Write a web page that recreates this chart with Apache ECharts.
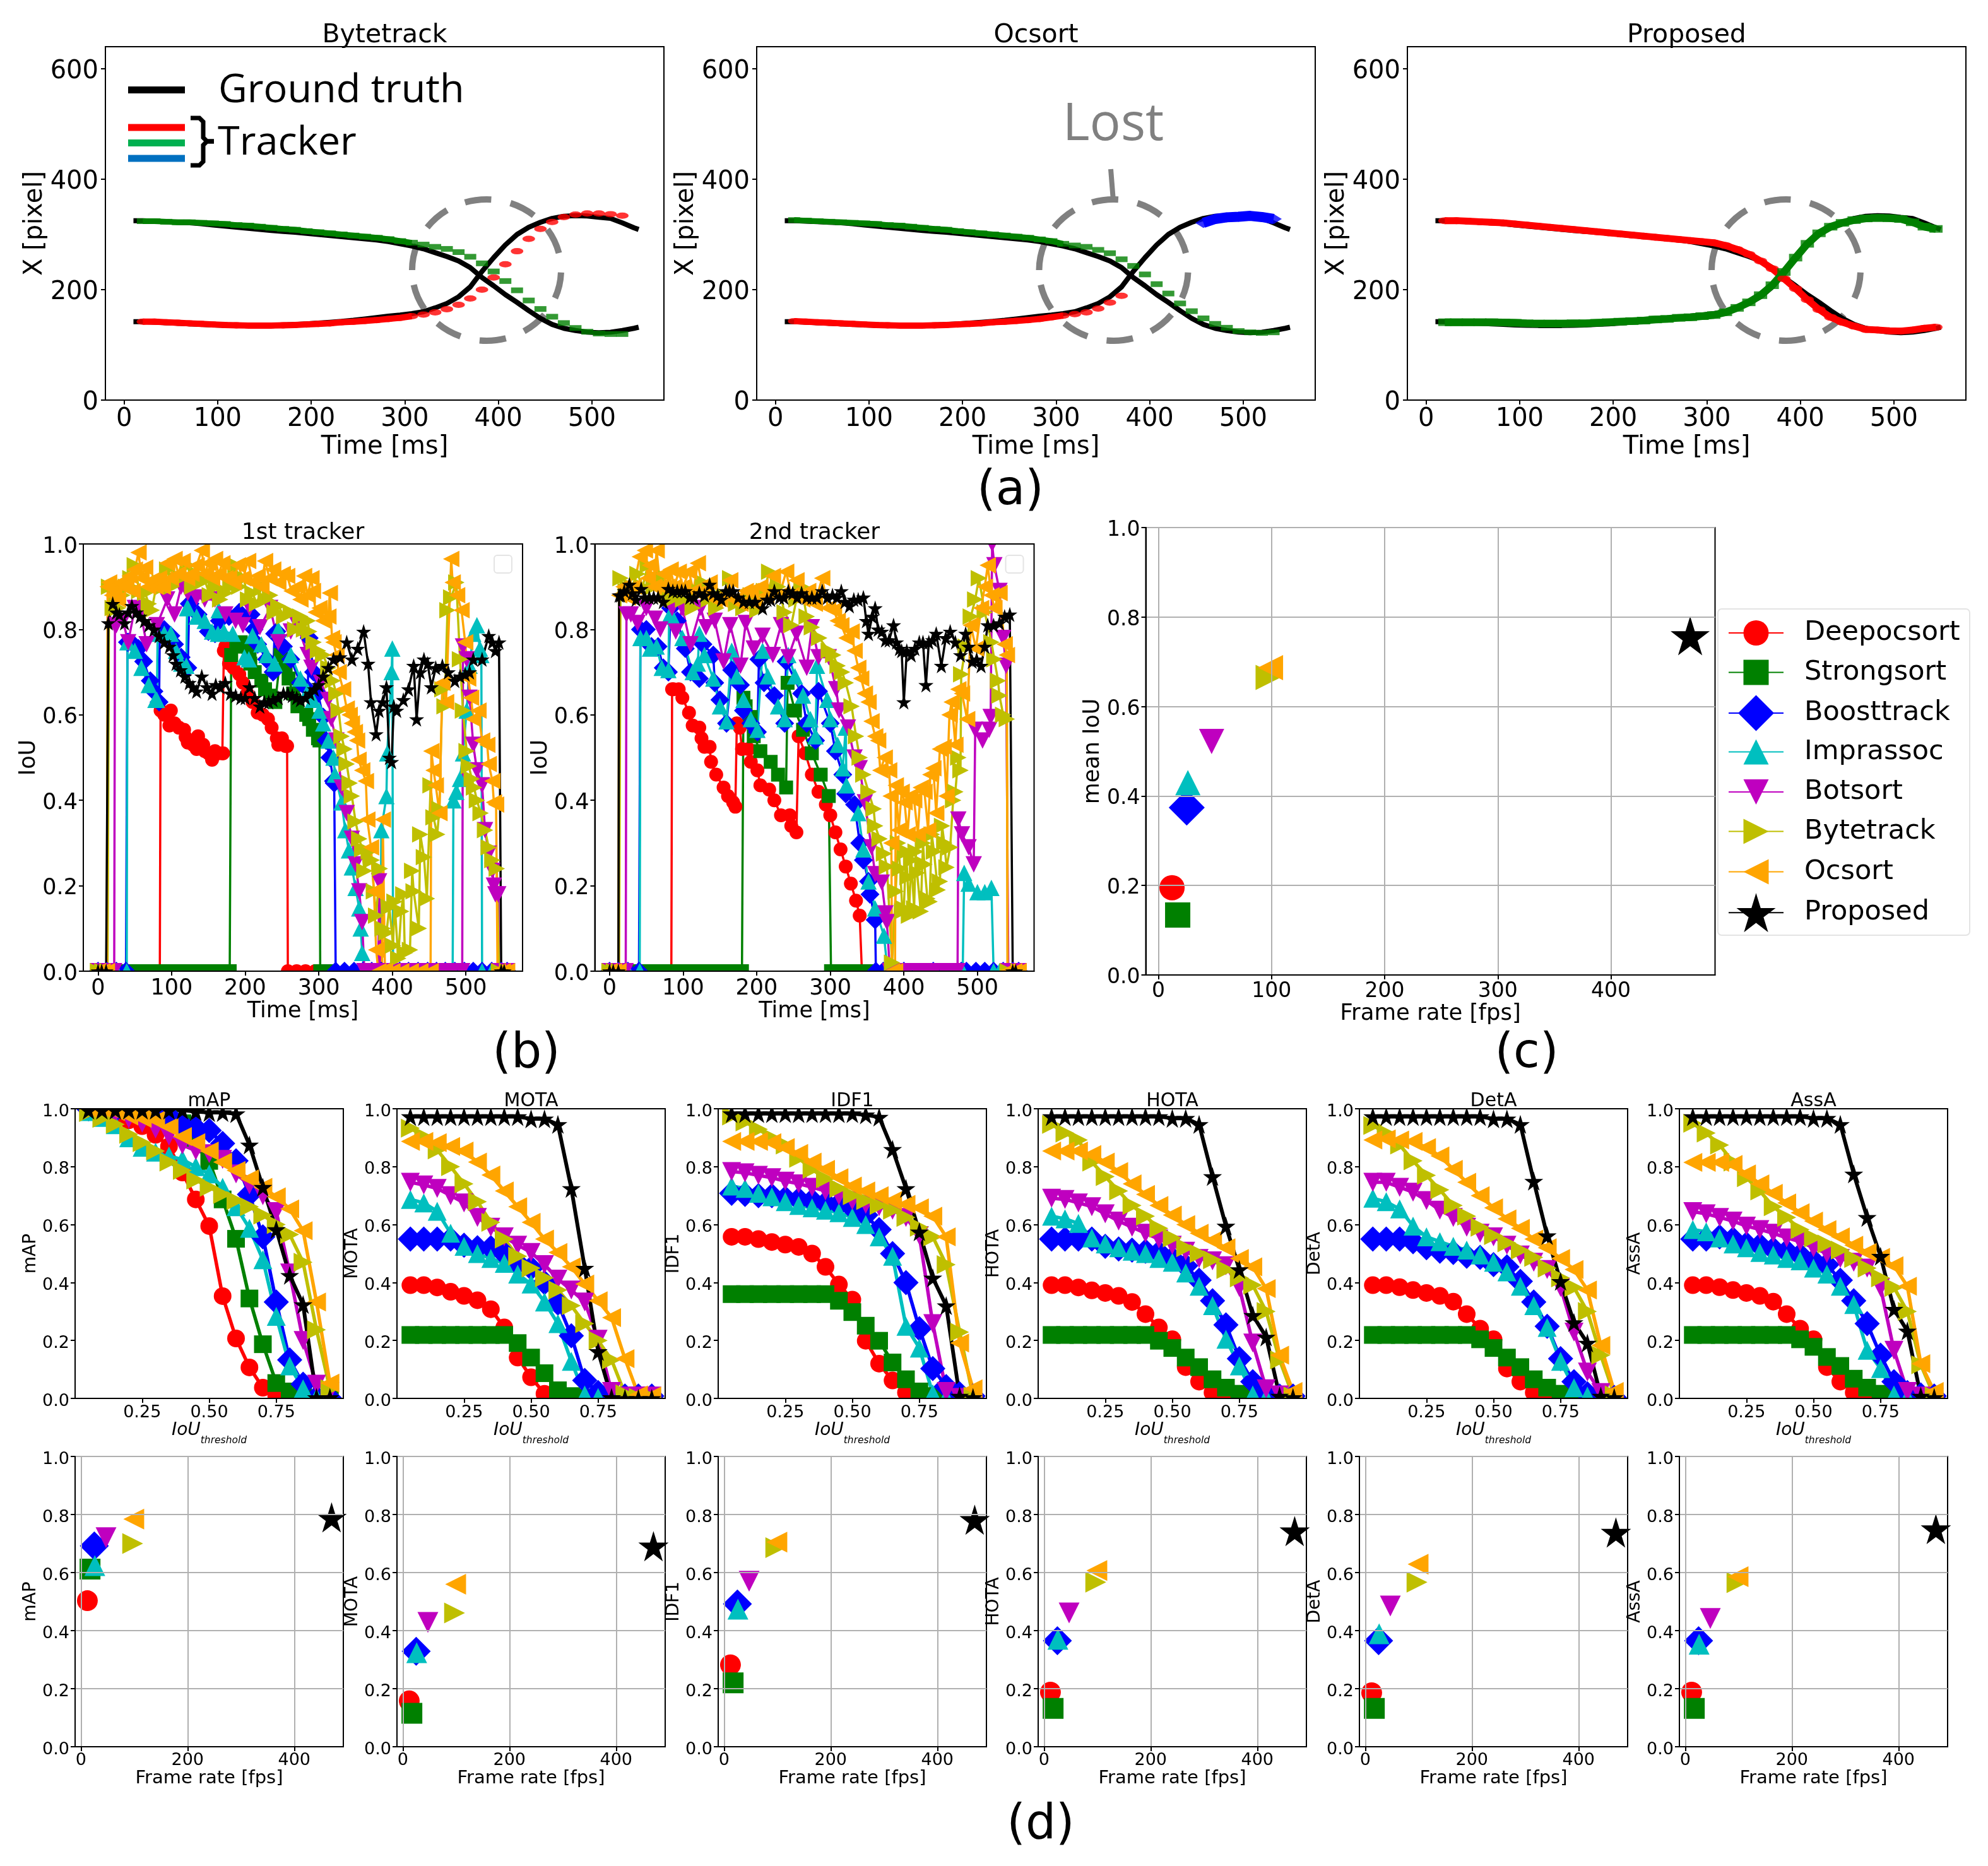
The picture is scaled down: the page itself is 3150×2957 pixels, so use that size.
<!DOCTYPE html>
<html><head><meta charset="utf-8">
<style>html,body{margin:0;padding:0;background:#fff}#c{width:3150px;height:2957px}</style>
<script src="https://cdn.jsdelivr.net/npm/echarts@6/dist/echarts.min.js"></script>
</head><body><div id="c"></div>
<script>
// ---------- (a) X position over time ----------
const aGtX=[10,20,32.5,45,57.5,70,82.5,95,107.5,120,132.5,145,157.5,170,182.5,195,207.5,220,232.5,245,257.5,270,282.5,295,307.5,320,332.5,345,357.5,370,382.5,395,407.5,420,432.5,445,457.5,470,482.5,495,507.5,520,532.5,545,550];
const aGtFalling=[325,325,324,323,322,321,319.5,317,315,313,311,309,307,305.5,304,302,300,298,296,294,292,290,287,283,279,274,267,260,252,240,222,207,191,177,162,148,137,130,126,123,122,123,126,130,132];
const aGtRising=[142,142,141,140,139,138,137,136,135.5,135,135,135,135.5,136,137,138,139.5,141,142.5,144.5,147,149.5,152,154,156.5,160,167,175,187,205,233,258,281,300,313,322,329,333,334,333.5,331,329,321,312,309];
const aFrames=[20,32.5,45,57.5,70,82.5,95,107.5,120,132.5,145,157.5,170,182.5,195,207.5,220,232.5,245,257.5,270,282.5,295,307.5,320,332.5,345,357.5,370,382.5,395,407.5,420,432.5,445,457.5,470,482.5,495,507.5,520,532.5,545];
const aByteGreen=[324,324,323,322,322,321,320,319,317,316,314,312,310,308.5,306,304,302,300,298,296,294,291.5,288,285,281.6,277.5,273.8,268,259.6,247.6,233,215.6,198.8,180.4,165,151,139.5,130.6,123.8,120.6,119.6,119.6];
const aByteRed=[142,142,141,140,139,138,137,136,135.5,135,135,135,135.5,136,137,138,139,141,142,143.5,145,147,149,152,155,159,164.7,172.6,184,200,222,246,269.6,292,310,322.6,331.5,336,338,338,336.7,334];
const aOcGreen=[326,325,324,323,322,321,320,319,317,316,314,312,310,308.5,306,304,302,300,298,296,294,291,288,283,280,277.5,272,266,255,243,227.6,210,193,175,161,148,138,131,125,122.7,121.7,122.7];
const aOcRed=[143,142,141,140,139,138,137,136,135.5,135,135,135,135.5,136,137,138,139,141,142,143.5,145,147,150,153,155.8,159,165.7,176.7,188.8];
const aOcBlueX=[457.5,470,482.5,495,507.5,520,532.5];
const aOcBlue=[321,328,331,332,333.6,331.5,328];
const aPropRed=[325,325,324,323,322,321,319,317,315,313,311,309,307,305,303,301,299,297,295,293,291,289,287,285,280,273,264,252,238,220,202,182,164,150,141,134,128,127,125.5,125,127,130,132];
const aPropGreen=[141,141,141,141,141,140.5,140,139,138.5,138.5,138.5,139,139,140,141,142,143,144,146,147,149,150,152,154,159,167,177,190,208,232,258,283,302,314,321,326,329,330,329.5,328,322,314,310];

// ---------- (b) IoU over time: [time, IoU] ----------
const b1Deep=[[0,0],[25,0],[50,0],[84,0],[85,.61],[90,.60],[97,.575],[99,.61],[104,.58],[110,.57],[117,.565],[119,.548],[122,.535],[129,.53],[134,.52],[136,.55],[143,.53],[145,.515],[150,.51],[155,.495],[159,.515],[164,.51],[169,.51],[170,.51],[171,.75],[173,.76],[178,.72],[184,.71],[192,.695],[197,.675],[203,.65],[210,.63],[217,.605],[224,.60],[231,.59],[236,.57],[243,.545],[245,.53],[250,.545],[255,.527],[257,.527],[258,0],[270,0],[282,0],[295,0],[320,0],[400,0],[555,0]];
const b1Strong=[[0,0],[12,0],[25,0],[38,0],[50,0],[62,0],[75,0],[88,0],[100,0],[112,0],[125,0],[138,0],[150,0],[162,0],[175,0],[179,0],[181,.74],[188,.76],[194,.77],[200,.76],[206,.75],[207,.72],[213,.70],[222,.68],[227,.66],[234,.645],[241,.63],[248,.74],[255,.715],[259,.685],[265,.65],[271,.62],[283,.60],[287,.59],[292,.565],[299,.545],[301,.54],[302,0],[312,0],[400,0],[555,0]];
const b1Boost=[[0,0],[12,0],[25,0],[38,0],[40,.77],[41,.77],[48,.765],[55,.755],[62,.725],[71,.68],[76,.655],[83,.63],[84,.80],[90,.80],[99,.785],[104,.765],[113,.735],[122,.71],[124,.86],[125,.86],[136,.835],[150,.795],[159,.79],[165,.82],[178,.83],[192,.84],[208,.835],[212,.80],[217,.765],[229,.73],[238,.70],[240,.79],[243,.795],[252,.76],[262,.73],[275,.675],[285,.66],[287,.78],[293,.70],[299,.65],[306,.595],[310,.54],[315,.50],[320,.445],[321,.44],[323,0],[335,0],[348,0],[360,0],[372,0],[385,0],[398,0],[410,0],[422,0],[435,0],[448,0],[460,0],[472,0],[485,0],[498,0],[510,0],[522,0],[535,0],[548,0],[556,0]];
const b1Impr=[[0,0],[12,0],[25,0],[39,0],[40,.77],[50,.75],[59,.71],[69,.67],[78,.635],[80,.635],[81,.79],[90,.79],[99,.79],[106,.75],[113,.72],[120,.715],[121,.85],[122,.85],[134,.83],[145,.82],[155,.795],[163,.79],[164,.845],[171,.795],[183,.79],[199,.735],[205,.73],[210,.785],[222,.765],[229,.74],[240,.72],[245,.80],[262,.74],[275,.685],[285,.655],[292,.635],[301,.61],[306,.58],[313,.54],[320,.50],[322,.46],[331,.395],[336,.33],[341,.283],[345,.243],[350,.195],[355,.147],[357,.10],[359,.043],[362,0],[375,0],[384,0],[385,.33],[392,.41],[393,.51],[399,.70],[400,.755],[401,0],[440,0],[480,0],[482,0],[483,.40],[487,.42],[492,.45],[496,.51],[501,.61],[505,.715],[510,.79],[515,.81],[519,.755],[521,.74],[522,0],[535,0],[556,0]];
const b1Bot=[[0,0],[12,0],[22,0],[23,.81],[25,.81],[34,.82],[41,.77],[50,.85],[58,.84],[66,.765],[80,.81],[94,.87],[104,.835],[113,.90],[122,.885],[134,.875],[145,.87],[159,.87],[173,.835],[187,.82],[197,.81],[206,.85],[220,.805],[234,.85],[245,.77],[262,.795],[271,.81],[285,.74],[290,.71],[303,.675],[313,.635],[317,.59],[324,.54],[331,.43],[338,.37],[345,.31],[350,.25],[355,.187],[359,.115],[362,0],[372,0],[381,0],[382,.21],[384,0],[395,0],[408,0],[420,0],[432,0],[445,0],[458,0],[470,0],[482,0],[495,0],[496,.76],[501,.73],[505,.64],[510,.53],[515,.47],[522,.435],[526,.33],[531,.275],[536,.235],[538,.20],[540,.18],[544,.18],[545,0],[556,0]];
const b1Byte=[[0,0],[6,0],[13,0],[15,.90],[20,.85],[27,.85],[33,.88],[38,.90],[44,.92],[50,.95],[56,.89],[64,.885],[69,.86],[73,.845],[79,.90],[84,.91],[89,.90],[94,.94],[100,.90],[106,.915],[113,.92],[122,.95],[128,.90],[134,.93],[140,.91],[145,.915],[152,.88],[160,.90],[166,.87],[173,.885],[180,.90],[187,.95],[192,.90],[198,.92],[204,.87],[210,.885],[216,.86],[222,.90],[228,.87],[234,.88],[240,.84],[245,.855],[253,.83],[262,.84],[268,.80],[275,.83],[280,.80],[285,.82],[287,.795],[293,.77],[299,.75],[306,.74],[313,.71],[319,.68],[324,.65],[327,.61],[331,.55],[335,.52],[338,.485],[342,.44],[345,.41],[350,.35],[355,.31],[359,.285],[362,.235],[368,.28],[372,.26],[375,.187],[378,.13],[383,.24],[387,.10],[392,.09],[396,.15],[401,.06],[403,.163],[408,.03],[412,.14],[415,.18],[417,.043],[424,.05],[427,.235],[429,.187],[436,.10],[438,.32],[443,.267],[447,.17],[452,.435],[456,.36],[461,.32],[464,.38],[468,.66],[471,.62],[475,.845],[480,.875],[487,.91],[492,.73],[496,.61],[501,.515],[504,.48],[508,.45],[511,.43],[515,.40],[520,.37],[526,.33],[531,.29],[536,.26],[542,.24],[545,0],[556,0]];
const b1Oc=[[0,0],[6,0],[12,0],[13,.90],[15,.91],[19,.88],[22,.90],[27,.87],[31,.91],[34,.90],[38,.90],[43,.925],[47,.89],[50,.94],[55,.98],[59,.92],[64,.945],[68,.90],[73,.915],[78,.90],[83,.92],[88,.90],[94,.955],[99,.92],[104,.965],[109,.93],[115,.96],[121,.92],[127,.93],[134,.95],[141,.985],[145,.93],[150,.955],[155,.92],[159,.965],[164,.93],[169,.955],[173,.92],[178,.92],[184,.91],[190,.95],[197,.92],[204,.96],[210,.91],[217,.925],[222,.90],[227,.96],[233,.92],[238,.94],[245,.91],[251,.93],[257,.925],[263,.89],[271,.90],[275,.87],[280,.925],[285,.88],[290,.92],[292,.89],[296,.84],[301,.85],[306,.82],[313,.83],[315,.885],[318,.78],[320,.77],[324,.74],[327,.70],[333,.66],[338,.615],[342,.60],[345,.58],[349,.56],[352,.54],[354,.495],[359,.47],[364,.445],[366,.355],[371,.29],[375,.187],[378,.05],[381,0],[386,0],[387,.355],[390,0],[400,0],[412,0],[425,0],[438,0],[452,0],[453,.515],[456,.47],[459,.435],[464,.37],[468,.675],[473,.63],[480,.965],[482,.91],[488,.88],[494,.845],[499,.77],[503,.685],[507,.64],[510,.59],[517,.61],[522,.54],[529,.53],[531,.485],[536,.445],[538,.395],[541,.39],[543,0],[550,0],[556,0]];
const b1Prop=[[0,0],[5,0],[11,0],[14,.815],[20,.86],[25,.84],[29,.835],[36,.815],[41,.84],[46,.855],[52,.84],[57,.83],[63,.82],[69,.81],[76,.80],[83,.785],[90,.77],[97,.76],[102,.74],[106,.72],[112,.705],[118,.69],[124,.675],[129,.665],[134,.655],[141,.69],[148,.665],[155,.65],[160,.67],[166,.665],[173,.675],[180,.65],[187,.645],[194,.64],[200,.64],[206,.665],[213,.64],[220,.62],[226,.63],[232,.63],[238,.635],[245,.64],[252,.65],[258,.65],[264,.645],[270,.64],[275,.635],[282,.64],[288,.65],[294,.66],[300,.67],[306,.69],[313,.71],[320,.73],[329,.735],[338,.77],[345,.73],[353,.755],[361,.795],[367,.72],[371,.63],[378,.555],[382,.61],[387,.63],[392,.665],[396,.50],[399,.49],[402,.62],[406,.61],[415,.635],[422,.66],[429,.715],[433,.59],[438,.70],[443,.73],[448,.72],[453,.665],[459,.71],[468,.715],[476,.70],[485,.68],[492,.69],[499,.695],[505,.70],[510,.73],[522,.73],[531,.785],[536,.77],[540,.75],[545,.77],[548,0],[552,0]];

const b2Deep=[[0,0],[25,0],[50,0],[84,0],[85,.66],[87,.66],[94,.66],[99,.64],[108,.605],[113,.575],[122,.57],[125,.545],[129,.525],[136,.525],[138,.49],[145,.46],[155,.43],[161,.41],[168,.395],[171,.385],[173,.58],[177,.57],[180,.52],[189,.52],[192,.49],[201,.47],[205,.435],[217,.425],[224,.40],[233,.365],[245,.365],[247,.34],[254,.325],[257,.55],[266,.51],[275,.46],[284,.42],[294,.39],[300,.365],[307,.325],[314,.285],[321,.245],[328,.205],[335,.165],[340,.13],[343,0],[400,0],[555,0]];
const b2Strong=[[0,0],[12,0],[25,0],[38,0],[50,0],[62,0],[75,0],[88,0],[100,0],[112,0],[125,0],[138,0],[150,0],[162,0],[175,0],[180,0],[182,.64],[185,.62],[192,.595],[196,.55],[205,.515],[219,.49],[229,.46],[240,.43],[242,.675],[252,.61],[263,.565],[275,.51],[287,.46],[298,.41],[301,0],[312,0],[325,0],[338,0],[350,0],[400,0],[555,0]];
const b2Boost=[[0,0],[12,0],[25,0],[40,0],[42,.80],[50,.80],[57,.76],[66,.76],[73,.71],[80,.70],[83,.85],[92,.82],[103,.755],[110,.70],[122,.685],[127,.765],[141,.74],[143,.675],[150,.635],[159,.58],[166,.705],[178,.67],[182,.61],[192,.58],[201,.56],[203,.73],[210,.675],[224,.645],[238,.58],[240,.725],[261,.65],[268,.58],[280,.54],[284,.655],[300,.58],[307,.515],[317,.46],[321,.415],[333,.39],[340,.30],[345,.26],[352,.21],[354,.18],[361,.12],[362,0],[372,0],[385,0],[400,0],[440,0],[478,0],[485,0],[498,0],[510,0],[522,0],[535,0],[548,0],[556,0]];
const b2Impr=[[0,0],[12,0],[25,0],[41,0],[42,.78],[50,.78],[55,.755],[64,.76],[71,.71],[80,.705],[81,.83],[85,.83],[99,.78],[113,.70],[120,.72],[122,.79],[129,.74],[141,.685],[150,.62],[159,.585],[166,.75],[173,.69],[182,.635],[192,.59],[201,.565],[208,.75],[215,.69],[229,.62],[238,.59],[243,.74],[252,.69],[263,.645],[273,.59],[280,.55],[282,.715],[296,.635],[300,.59],[310,.53],[317,.475],[321,.57],[322,.435],[338,.37],[345,.285],[352,.21],[361,.147],[373,.083],[378,0],[390,0],[440,0],[480,0],[482,.23],[488,.205],[500,.185],[510,.185],[519,.195],[522,0],[530,0],[556,0]];
const b2Bot=[[0,0],[12,0],[22,0],[23,.835],[29,.835],[38,.815],[50,.85],[62,.825],[69,.80],[85,.85],[90,.795],[99,.85],[110,.765],[124,.85],[131,.805],[143,.82],[155,.725],[164,.81],[178,.715],[185,.815],[196,.755],[208,.785],[222,.74],[233,.81],[243,.735],[254,.79],[268,.71],[275,.805],[284,.735],[298,.735],[308,.66],[312,.61],[324,.57],[333,.50],[340,.475],[347,.395],[356,.29],[361,.227],[370,.207],[375,.135],[377,.115],[381,0],[393,0],[405,0],[418,0],[430,0],[442,0],[455,0],[468,0],[473,0],[474,.355],[479,.32],[488,.29],[495,.25],[497,.565],[507,.54],[516,.565],[518,.595],[520,1.0],[523,.95],[530,.89],[535,.78],[539,.715],[542,0],[556,0]];
const b2Byte=[[0,0],[6,0],[13,0],[15,.92],[22,.89],[30,.90],[38,.93],[45,.90],[52,.95],[60,.90],[71,.925],[78,.88],[85,.87],[92,.89],[100,.87],[113,.85],[120,.89],[127,.91],[135,.87],[145,.85],[155,.88],[164,.92],[172,.86],[182,.85],[192,.88],[201,.845],[210,.89],[217,.935],[223,.89],[229,.90],[238,.84],[247,.81],[254,.87],[261,.90],[268,.83],[275,.805],[285,.78],[298,.75],[304,.74],[310,.715],[316,.70],[321,.675],[329,.62],[335,.55],[340,.50],[345,.46],[352,.42],[359,.38],[361,.34],[367,.31],[373,.275],[377,.245],[384,.02],[389,.187],[392,.30],[395,.24],[398,.14],[400,.147],[403,.28],[405,.22],[407,.13],[410,.26],[414,.147],[416,.28],[418,.23],[423,.14],[426,.30],[428,.25],[432,.17],[435,.163],[438,.32],[441,.28],[446,.19],[449,.21],[452,.34],[455,.30],[458,.243],[463,.29],[467,.40],[470,.42],[474,.50],[477,.47],[478,.695],[484,.76],[491,.83],[497,.87],[502,.92],[510,.84],[519,.77],[523,.73],[528,.68],[530,.645],[535,.60],[540,.59],[541,0],[556,0]];
const b2Oc=[[0,0],[6,0],[12,0],[13,.88],[19,.90],[25,.875],[33,.90],[41,.97],[48,.985],[52,.92],[55,.95],[60,.90],[64,.985],[69,.90],[73,.93],[78,.90],[83,.94],[88,.90],[94,.935],[100,.90],[108,.935],[114,.89],[120,.955],[127,.89],[136,.91],[143,.87],[150,.87],[157,.88],[164,.915],[171,.87],[178,.86],[185,.89],[192,.89],[198,.86],[205,.90],[213,.88],[222,.925],[231,.88],[240,.935],[247,.88],[254,.915],[262,.87],[270,.89],[279,.86],[289,.92],[297,.85],[305,.845],[310,.82],[315,.81],[322,.78],[329,.795],[333,.75],[338,.71],[342,.685],[347,.65],[352,.63],[356,.585],[361,.55],[365,.54],[368,.47],[374,.50],[380,.47],[382,.41],[383,.30],[384,0],[388,0],[389,.435],[393,.33],[397,.42],[401,.395],[405,.32],[409,.41],[414,.40],[419,.32],[423,.43],[428,.42],[433,.33],[436,.46],[440,.475],[444,.37],[449,.52],[454,.525],[458,.41],[462,.60],[465,.63],[470,.53],[474,.66],[479,.65],[486,.59],[491,.81],[498,.755],[505,.85],[510,.90],[514,.95],[519,.88],[523,.85],[530,.885],[537,.765],[540,.74],[541,0],[550,0],[556,0]];
const b2Prop=[[0,0],[5,0],[12,0],[13,.88],[15,.88],[20,.89],[27,.905],[31,.885],[36,.87],[43,.895],[48,.875],[54,.875],[60,.875],[66,.875],[73,.865],[80,.895],[86,.89],[92,.89],[98,.89],[103,.89],[109,.875],[115,.875],[122,.885],[129,.88],[136,.905],[141,.885],[147,.88],[152,.87],[158,.89],[163,.89],[168,.89],[175,.875],[182,.865],[190,.865],[198,.865],[208,.85],[214,.87],[219,.87],[224,.89],[231,.875],[237,.875],[243,.89],[249,.885],[255,.875],[261,.885],[268,.875],[275,.875],[282,.875],[289,.89],[296,.875],[303,.88],[309,.875],[315,.89],[320,.865],[326,.855],[332,.87],[338,.87],[345,.875],[349,.82],[352,.79],[357,.83],[361,.85],[365,.80],[370,.795],[375,.775],[380,.775],[386,.81],[390,.77],[394,.755],[397,.75],[400,.63],[404,.75],[410,.74],[415,.755],[421,.77],[426,.77],[430,.67],[434,.77],[439,.775],[444,.79],[451,.715],[457,.78],[463,.795],[470,.77],[477,.74],[484,.79],[488,.76],[493,.725],[499,.73],[505,.715],[510,.76],[514,.81],[522,.81],[530,.815],[537,.83],[544,.835],[548,0],[552,0]];

// ---------- (c) / (d bottom) frame rate and mean scores, tracker order ----------
const trackerNames=['Deepocsort','Strongsort','Boosttrack','Imprassoc','Botsort','Bytetrack','Ocsort','Proposed'];
const frameRates=[12,17,25,26,47,97,99,470];
const meanIoU=[.195,.134,.374,.43,.522,.665,.687,.758];
const meanMap=[.503,.612,.692,.624,.72,.70,.784,.79];
const meanMota=[.158,.115,.329,.324,.428,.461,.56,.691];
const meanIdf1=[.282,.22,.492,.474,.57,.686,.705,.782];
const meanHota=[.188,.132,.365,.37,.461,.567,.607,.743];
const meanDeta=[.186,.132,.365,.389,.485,.567,.629,.738];
const meanAssa=[.188,.132,.365,.353,.442,.565,.586,.75];

// ---------- (d top) score vs IoU threshold ----------
const iouThresholds=[.05,.1,.15,.2,.25,.3,.35,.4,.45,.5,.55,.6,.65,.7,.75,.8,.85,.9,.95];
const mapDeep=[1,.99,.98,.96,.94,.91,.87,.78,.687,.595,.353,.207,.107,.037,.008,.001,0,0,0];
const mapStrong=[1,1,1,.995,.99,.985,.975,.95,.90,.82,.687,.551,.345,.187,.053,.024,.005,0,0];
const mapBoost=[1,1,.995,.99,.985,.98,.975,.945,.933,.925,.88,.82,.704,.558,.333,.133,.049,.003,0];
const mapImpr=[.99,.97,.945,.90,.867,.85,.837,.825,.80,.775,.729,.662,.587,.479,.283,.112,.033,.003,0];
const mapBot=[1,.995,.985,.965,.95,.93,.905,.875,.855,.845,.825,.775,.737,.70,.645,.433,.20,.049,.024];
const mapByte=[.987,.967,.946,.912,.883,.854,.816,.787,.754,.729,.704,.683,.662,.633,.60,.566,.47,.237,.033];
const mapOc=[1,1,.99,.975,.967,.96,.937,.904,.883,.854,.816,.787,.758,.729,.696,.654,.579,.333,.053];
const mapProp=[.995,.995,.995,.995,.995,.995,.995,.995,.99,.987,.987,.983,.875,.729,.583,.425,.324,.003,.003];
const motaDeep=[.391,.391,.383,.368,.354,.339,.308,.245,.141,.073,.016,.003,0,0,0,0,0,0,0];
const motaStrong=[.219,.219,.219,.219,.219,.219,.219,.219,.191,.141,.087,.028,.008,.002,0,0,0,0,0];
const motaBoost=[.55,.55,.55,.55,.529,.52,.52,.50,.466,.45,.40,.329,.216,.062,.02,.008,.008,.008,.008];
const motaImpr=[.687,.675,.646,.57,.525,.50,.483,.466,.429,.395,.333,.258,.128,.012,.003,0,0,0,0];
const motaBot=[.746,.737,.725,.70,.675,.625,.591,.558,.529,.504,.462,.412,.374,.333,.204,.024,.008,.008,.008];
const motaByte=[.933,.904,.858,.80,.741,.679,.608,.55,.491,.45,.416,.374,.32,.258,.20,.133,.016,.003,.003];
const motaOc=[.887,.887,.883,.87,.854,.816,.771,.716,.662,.608,.55,.504,.454,.395,.337,.279,.137,.012,.008];
const motaProp=[.973,.973,.973,.973,.973,.973,.973,.973,.973,.965,.965,.946,.725,.45,.162,.003,0,0,0];
const idf1Deep=[.558,.558,.55,.54,.531,.523,.50,.454,.393,.341,.199,.12,.062,.02,.003,0,0,0,0];
const idf1Strong=[.36,.36,.36,.36,.36,.36,.36,.36,.337,.298,.251,.199,.124,.066,.024,.008,.001,0,0];
const idf1Boost=[.708,.704,.70,.70,.691,.687,.683,.675,.67,.658,.633,.583,.50,.40,.241,.103,.041,.016,.008];
const idf1Impr=[.733,.725,.708,.696,.679,.666,.658,.65,.641,.625,.60,.558,.491,.249,.174,.016,.003,0,0];
const idf1Bot=[.783,.779,.77,.762,.75,.741,.729,.716,.70,.683,.67,.662,.65,.625,.562,.258,.024,.003,0];
const idf1Byte=[.975,.954,.929,.90,.875,.829,.791,.758,.725,.70,.683,.666,.65,.625,.591,.558,.462,.229,.008];
const idf1Oc=[.887,.887,.887,.883,.866,.846,.816,.791,.762,.733,.716,.70,.683,.67,.658,.629,.558,.191,.033];
const idf1Prop=[.983,.983,.983,.983,.983,.983,.983,.983,.983,.983,.979,.971,.86,.725,.575,.416,.32,.008,.003];
const hotaDeep=[.391,.391,.383,.373,.364,.354,.333,.291,.245,.204,.108,.058,.02,.003,0,0,0,0,0];
const hotaStrong=[.219,.219,.219,.219,.219,.219,.219,.219,.199,.174,.141,.108,.066,.037,.016,.003,0,0,0];
const hotaBoost=[.55,.55,.55,.55,.525,.516,.512,.508,.504,.483,.458,.408,.337,.254,.137,.058,.016,.008,.008];
const hotaImpr=[.629,.62,.604,.554,.533,.52,.508,.50,.483,.47,.433,.387,.32,.204,.112,.012,.003,0,0];
const hotaBot=[.691,.687,.675,.662,.637,.612,.591,.57,.55,.529,.508,.483,.475,.458,.383,.191,.033,.012,.003];
const hotaByte=[.946,.916,.892,.816,.766,.716,.666,.629,.587,.554,.52,.50,.479,.445,.416,.391,.30,.133,.008];
const hotaOc=[.854,.854,.854,.842,.816,.783,.741,.704,.666,.633,.60,.57,.545,.52,.483,.454,.379,.149,.024];
const hotaProp=[.973,.973,.973,.973,.973,.973,.973,.973,.973,.967,.967,.946,.766,.595,.445,.287,.212,.008,.003];
const detaDeep=[.391,.391,.384,.374,.364,.354,.334,.291,.241,.204,.103,.058,.02,.003,0,0,0,0,0];
const detaStrong=[.219,.219,.219,.219,.219,.219,.219,.219,.204,.174,.141,.108,.066,.037,.016,.003,0,0,0];
const detaBoost=[.55,.55,.55,.541,.52,.508,.504,.491,.487,.462,.454,.404,.333,.249,.137,.058,.016,.008,.003];
const detaImpr=[.691,.679,.654,.595,.558,.541,.525,.512,.495,.47,.437,.387,.32,.245,.128,.037,.008,.003,0];
const detaBot=[.746,.746,.729,.712,.683,.65,.625,.591,.57,.558,.529,.495,.47,.445,.383,.229,.091,.02,.003];
const detaByte=[.942,.916,.875,.82,.77,.72,.666,.629,.591,.562,.537,.512,.487,.45,.416,.383,.30,.149,.012];
const detaOc=[.892,.896,.892,.887,.866,.837,.791,.746,.70,.658,.62,.587,.55,.52,.483,.445,.374,.183,.024];
const detaProp=[.973,.973,.973,.973,.973,.973,.973,.973,.973,.965,.965,.946,.75,.562,.404,.262,.191,.008,.003];
const assaDeep=[.391,.391,.384,.374,.364,.354,.334,.291,.241,.204,.108,.058,.02,.003,0,0,0,0,0];
const assaStrong=[.219,.219,.219,.219,.219,.219,.219,.219,.204,.178,.143,.112,.068,.037,.016,.003,0,0,0];
const assaBoost=[.55,.55,.558,.55,.533,.529,.516,.508,.495,.475,.462,.408,.337,.258,.149,.058,.02,.012,.008];
const assaImpr=[.583,.575,.554,.533,.52,.504,.495,.483,.475,.45,.429,.387,.324,.166,.103,.012,.003,0,0];
const assaBot=[.645,.637,.625,.612,.595,.583,.57,.554,.541,.52,.50,.483,.47,.45,.383,.166,.024,.008,.003];
const assaByte=[.95,.916,.875,.816,.762,.716,.662,.625,.583,.554,.533,.512,.483,.45,.416,.383,.30,.116,.008];
const assaOc=[.815,.815,.815,.808,.775,.741,.708,.675,.641,.612,.583,.558,.529,.504,.487,.458,.387,.12,.024];
const assaProp=[.973,.973,.973,.973,.973,.973,.973,.973,.973,.967,.967,.946,.775,.625,.491,.308,.233,.008,.003];

// ---------- presentation ----------
const FF='DejaVu Sans';
const STAR='path://M0,-100 L22.45,-30.9 L95.1,-30.9 L36.3,11.8 L58.8,80.9 L0,38.2 L-58.8,80.9 L-36.3,11.8 L-95.1,-30.9 L-22.45,-30.9 Z';
const colors=['#ff0000','#008000','#0000ff','#00bfbf','#bf00bf','#bfbf00','#ffa500','#000000'];
const symbols=['circle','rect','diamond','triangle','triangle','triangle','triangle',STAR];
const rotations=[0,0,0,0,180,-90,90,0];
const sizeSets={b:[22,22,30,26,26,26,26,24],dTop:[28,28,40,30,30,30,30,30],dBot:[33,33,46,33,33,33,33,48],c:[40,40,57,40,40,40,40,62]};

const grids=[],xAxes=[],yAxes=[],series=[],titles=[],gfx=[];
function numFmt(d){return v=>Number(v).toFixed(d);}
function panel(r,xc,yc){
  const i=grids.length;
  grids.push({show:true,left:r[0],top:r[1],width:r[2],height:r[3],z:9,borderColor:'#000',borderWidth:2,backgroundColor:'transparent'});
  const common=(c,isY)=>({type:'value',gridIndex:i,z:10,min:c.min,max:c.max,name:c.name,nameLocation:'middle',nameGap:c.gap,
    nameTextStyle:Object.assign({fontFamily:FF,fontSize:c.nfs||c.fs,color:'#000'},c.nameStyle||{}),
    axisLine:{show:true,onZero:false,lineStyle:{color:'#000',width:2}},
    axisTick:{show:true,length:7,customValues:c.ticks,lineStyle:{color:'#000',width:2}},
    axisLabel:Object.assign({show:true,customValues:c.ticks,formatter:numFmt(c.dec),margin:c.margin,fontFamily:FF,fontSize:c.fs,color:'#000',hideOverlap:false},isY?{verticalAlign:'top',lineHeight:9}:{}),
    splitLine:{show:!!c.grid,lineStyle:{color:'#b0b0b0',width:2}}});
  xAxes.push(common(xc,false));yAxes.push(common(yc,true));
  return i;
}
function lineSeries(i,name,pts,k,size,w){
  series.push({type:'line',name,xAxisIndex:i,yAxisIndex:i,data:pts,symbol:symbols[k],symbolRotate:rotations[k],symbolSize:size,showSymbol:true,showAllSymbol:true,clip:false,animation:false,silent:true,
    itemStyle:{color:colors[k],borderWidth:0},lineStyle:{color:colors[k],width:w}});
}
function zip(xs,ys){return ys.map((y,j)=>[xs[j],y]);}

// (c) first, so the legend reads its icons from these series
const cIdx=panel([1815.5,836,902,709],
 {min:-11.2,max:492,ticks:[0,100,200,300,400],dec:0,name:'Frame rate [fps]',gap:44,fs:33,nfs:35.5,margin:10,grid:true},
 {min:0,max:1,ticks:[0,.2,.4,.6,.8,1],dec:1,name:'mean IoU',gap:66,fs:33,nfs:35,margin:9,grid:true});
trackerNames.forEach((n,k)=>lineSeries(cIdx,n,[[frameRates[k],meanIoU[k]]],k,sizeSets.c[k],2));

// (a): markers, with the densely tracked stretch of each tracker (up to solidCount frames) drawn solid beneath them
const aLefts=[167,1199,2230],aNames=['Bytetrack','Ocsort','Proposed'];
const aTrack=[
 [[aFrames,aByteRed,'circle','#ff0000',[20,10],24],[aFrames,aByteGreen,'rect','#008000',[19,9],24]],
 [[aFrames,aOcRed,'circle','#ff0000',[20,10],24],[aFrames,aOcGreen,'rect','#008000',[19,9],24],[aOcBlueX,aOcBlue,'diamond','#0000ff',[26,16],7]],
 [[aFrames,aPropRed,'circle','#ff0000',[21,11],43],[aFrames,aPropGreen,'rect','#008000',[21,12],43]]
];
aLefts.forEach((l,p)=>{
  const i=panel([l,74,885,560],
   {min:-20,max:577,ticks:[0,100,200,300,400,500],dec:0,name:'Time [ms]',gap:55,fs:40,margin:11},
   {min:0,max:640,ticks:[0,200,400,600],dec:0,name:'X [pixel]',gap:88,fs:40,margin:11});
  [aGtFalling,aGtRising].forEach(g=>series.push({type:'line',name:'Ground truth',xAxisIndex:i,yAxisIndex:i,data:zip(aGtX,g),showSymbol:false,animation:false,silent:true,lineStyle:{color:'#000',width:8,cap:'butt'}}));
  aTrack[p].forEach(t=>{
    const pts=zip(t[0],t[1]);
    series.push({type:'line',name:'Tracker',z:3,xAxisIndex:i,yAxisIndex:i,data:pts.slice(0,t[5]),showSymbol:false,animation:false,silent:true,lineStyle:{color:t[3],width:t[4][1],cap:'butt'}});
    series.push({type:'scatter',name:'Tracker',z:3,xAxisIndex:i,yAxisIndex:i,data:pts,symbol:t[2],symbolSize:t[4],animation:false,silent:true,itemStyle:{color:t[3]}});
  });
  titles.push({text:aNames[p],left:l+442.5,top:36,textAlign:'center',padding:0,z:12,textStyle:{fontFamily:FF,fontSize:41,fontWeight:'normal',color:'#000'}});
});

// (b)
const bData=[[b1Deep,b1Strong,b1Boost,b1Impr,b1Bot,b1Byte,b1Oc,b1Prop],[b2Deep,b2Strong,b2Boost,b2Impr,b2Bot,b2Byte,b2Oc,b2Prop]];
const bLefts=[132,942.5],bTitles=['1st tracker','2nd tracker'];
bLefts.forEach((l,p)=>{
  const i=panel([l,862,696,677],
   {min:-20,max:577,ticks:[0,100,200,300,400,500],dec:0,name:'Time [ms]',gap:46,fs:35,margin:10},
   {min:0,max:1,ticks:[0,.2,.4,.6,.8,1],dec:1,name:'IoU',gap:67,fs:35,margin:9});
  bData[p].forEach((d,k)=>lineSeries(i,trackerNames[k],d,k,sizeSets.b[k],3.5));
  titles.push({text:bTitles[p],left:l+348,top:827,textAlign:'center',padding:0,z:12,textStyle:{fontFamily:FF,fontSize:36,fontWeight:'normal',color:'#000'}});
  gfx.push({type:'rect',z:3,silent:true,shape:{x:l+651,y:880,width:28,height:28,r:5},style:{fill:'#fff',stroke:'#e4e4e4',lineWidth:2}});
  gfx.push({type:'rect',z:4,silent:true,shape:{x:l-15,y:1540,width:726,height:18},style:{fill:'#fff'}});
  gfx.push({type:'rect',z:4,silent:true,shape:{x:l-15,y:842,width:726,height:19},style:{fill:'#fff'}});
});

// (d)
const dLefts=[119,629,1138,1645,2154,2661];
const metricNames=['mAP','MOTA','IDF1','HOTA','DetA','AssA'];
const dTopData=[
 [mapDeep,mapStrong,mapBoost,mapImpr,mapBot,mapByte,mapOc,mapProp],
 [motaDeep,motaStrong,motaBoost,motaImpr,motaBot,motaByte,motaOc,motaProp],
 [idf1Deep,idf1Strong,idf1Boost,idf1Impr,idf1Bot,idf1Byte,idf1Oc,idf1Prop],
 [hotaDeep,hotaStrong,hotaBoost,hotaImpr,hotaBot,hotaByte,hotaOc,hotaProp],
 [detaDeep,detaStrong,detaBoost,detaImpr,detaBot,detaByte,detaOc,detaProp],
 [assaDeep,assaStrong,assaBoost,assaImpr,assaBot,assaByte,assaOc,assaProp]];
const dBotData=[meanMap,meanMota,meanIdf1,meanHota,meanDeta,meanAssa];
dLefts.forEach((l,p)=>{
  const i=panel([l,1757,425,459],
   {min:0,max:1,ticks:[.25,.5,.75],dec:2,name:'{i|IoU}{s|threshold}',gap:31,fs:27,margin:9,
    nameStyle:{rich:{i:{fontFamily:FF,fontStyle:'italic',fontSize:28,color:'#000',verticalAlign:'top',lineHeight:38},s:{fontFamily:FF,fontStyle:'italic',fontSize:15.5,color:'#000',verticalAlign:'bottom',lineHeight:38}}}},
   {min:0,max:1,ticks:[0,.2,.4,.6,.8,1],dec:1,name:metricNames[p],gap:55,fs:27,nfs:28,margin:9});
  dTopData[p].forEach((d,k)=>lineSeries(i,trackerNames[k],zip(iouThresholds,d),k,sizeSets.dTop[k],k===7?6:5.5));
  titles.push({text:metricNames[p],left:l+212.5,top:1730,textAlign:'center',padding:0,z:12,textStyle:{fontFamily:FF,fontSize:30,fontWeight:'normal',color:'#000'}});
  gfx.push({type:'rect',z:4,silent:true,shape:{x:l-2,y:2217,width:430,height:20},style:{fill:'#fff'}});
  gfx.push({type:'rect',z:4,silent:true,shape:{x:l-2,y:1736,width:430,height:20},style:{fill:'#fff'}});
  const j=panel([l,2308,425,460],
   {min:-11,max:492,ticks:[0,200,400],dec:0,name:'Frame rate [fps]',gap:36,fs:27,nfs:29,margin:8,grid:true},
   {min:0,max:1,ticks:[0,.2,.4,.6,.8,1],dec:1,name:metricNames[p],gap:55,fs:27,nfs:28,margin:9,grid:true});
  trackerNames.forEach((n,k)=>lineSeries(j,n,[[frameRates[k],dBotData[p][k]]],k,sizeSets.dBot[k],2));
});

// sub-figure letters
[['(a)',1601,773],['(b)',834,1665],['(c)',2419,1665],['(d)',1649,2887]].forEach(t=>titles.push({text:t[0],left:t[1],top:t[2]-32,textAlign:'center',padding:0,z:12,textStyle:{fontFamily:FF,fontSize:76,fontWeight:'normal',color:'#000'}}));

// (a) annotations
[771,1764.5,2830].forEach(cx=>gfx.push({type:'ellipse',z:3,silent:true,shape:{cx,cy:428,rx:118,ry:112},style:{fill:'none',stroke:'#808080',lineWidth:10,lineDash:[42,31]}}));
gfx.push({type:'line',z:3,silent:true,shape:{x1:1760,y1:268,x2:1764,y2:318},style:{stroke:'#808080',lineWidth:8}});
gfx.push({type:'text',z:3,silent:true,style:{text:'Lost',x:1764,y:240,textAlign:'center',textVerticalAlign:'bottom',font:'82px "Open Sans"',fill:'#808080'}});
gfx.push({type:'text',z:3,silent:true,style:{text:'Ground truth',x:346,y:176,textAlign:'left',textVerticalAlign:'bottom',font:'63px "Open Sans"',fill:'#000'}});
gfx.push({type:'text',z:3,silent:true,style:{text:'Tracker',x:345,y:259,textAlign:'left',textVerticalAlign:'bottom',font:'63px "Open Sans"',fill:'#000'}});
[[137,'#000000'],[196.5,'#ff0000'],[221,'#00b050'],[245.5,'#0070c0']].forEach(b=>gfx.push({type:'rect',z:3,silent:true,shape:{x:203,y:b[0],width:90,height:11},style:{fill:b[1]}}));
gfx.push({type:'polyline',z:3,silent:true,shape:{points:[[302,187],[316,187],[322,193],[322,218],[328,224],[339,224]]},style:{stroke:'#000',lineWidth:7,fill:'none'}});
gfx.push({type:'polyline',z:3,silent:true,shape:{points:[[302,262],[316,262],[322,256],[322,230],[328,224],[339,224]]},style:{stroke:'#000',lineWidth:7,fill:'none'}});

// (c) legend
gfx.push({type:'rect',z:1,silent:true,shape:{x:2722,y:965,width:399,height:517,r:6},style:{fill:'#fff',stroke:'#e4e4e4',lineWidth:2}});
const legendRows=[1000.5,1063,1126,1189,1252.6,1315,1379,1442];
const legendNudge=[6,6,11,6,6,6,6,12];
const legends=trackerNames.map((n,k)=>{
  const ih=sizeSets.c[k]/0.8;
  return {data:[n],left:2738,top:legendRows[k]+legendNudge[k]-ih/2,padding:0,orient:'vertical',selectedMode:false,itemWidth:87,itemHeight:ih,z:6,lineStyle:{width:2},
    textStyle:{fontFamily:FF,fontSize:43,color:'#000',padding:[0,0,0,28]}};
});

const chart=echarts.init(document.getElementById('c'),null,{renderer:'canvas',width:3150,height:2957});
chart.setOption({animation:false,backgroundColor:'#fff',title:titles,grid:grids,xAxis:xAxes,yAxis:yAxes,legend:legends,series,graphic:{elements:gfx}});
</script></body></html>
